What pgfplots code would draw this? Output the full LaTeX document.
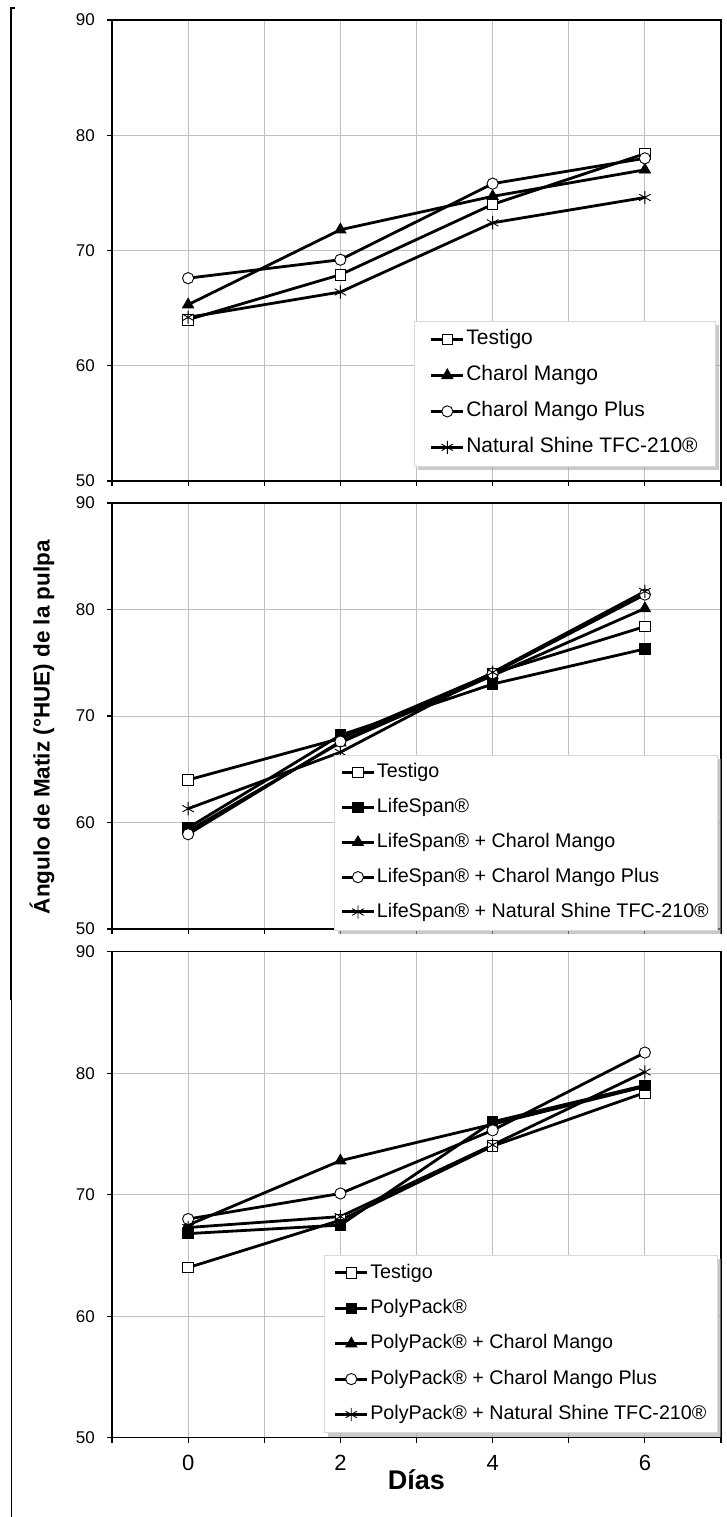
\documentclass[border=0pt]{standalone}
\usepackage{fontspec}
\setmainfont{Liberation Sans}
\usepackage{pgfplots}
\pgfplotsset{compat=1.18}
\usetikzlibrary{shadows}
\makeatletter
\tikzset{no preactions/.code={\let\tikz@preactions\pgfutil@empty}}
\makeatother

\pgfplotstableread{
x  t    cm    cmp   ns
0  64.0 65.3  67.6  64.2
2  67.9 71.8  69.2  66.4
4  74.0 74.7  75.8  72.4
6  78.4 77.0  78.0  74.6
}\tabA
\pgfplotstableread{
x  t    ls    lcm   lcmp  lns
0  64.0 59.5  59.2  58.9  61.3
2  67.9 68.2  67.5  67.6  66.6
4  74.0 73.0  73.8  74.0  74.1
6  78.4 76.3  80.1  81.4  81.7
}\tabB
\pgfplotstableread{
x  t    pp    pcm   pcmp  pns
0  64.0 66.8  67.5  68.0  67.3
2  67.9 67.5  72.8  70.1  68.2
4  74.0 76.0  75.8  75.3  74.1
6  78.4 79.0  78.9  81.7  80.1
}\tabC

\pgfplotsset{
 sq/.style={mark=square*, mark size=5.3pt, mark options={solid, fill=white, line width=0.9pt}},
 sqf/.style={mark=square*, mark size=5.3pt, mark options={solid, fill=black, line width=0.9pt}},
 tri/.style={mark=triangle*, mark size=6.4pt, mark options={solid, fill=black, line width=0.9pt}},
 cir/.style={mark=*, mark size=5.6pt, mark options={solid, fill=white, line width=0.9pt}},
 ast/.style={mark=asterisk, mark size=6.6pt, mark options={solid, line width=0.9pt}},
 panel/.style={
  scale only axis, width=609pt, anchor=south west,
  xmin=-1, xmax=7, ymin=50, ymax=90,
  xtick={-1,0,...,7}, xticklabels={},
  ytick={50,60,70,80,90},
  grid=major, major grid style={gray!50, line width=0.9pt},
  axis line style={black, line width=1.1pt},
  tick align=outside, tick pos=left,
  major tick length=5pt,
  tick style={black, line width=1.1pt},
  /pgf/number format/assume math mode=true,
  yticklabel style={font=\fontsize{17}{19}\selectfont, inner sep=0pt, xshift=-12pt},
  legend cell align=left,
  legend image code/.code={\draw[no preactions,mark repeat=2,mark phase=2,##1,black,line width=3pt] plot coordinates {(0pt,0pt) (16pt,0pt) (32pt,0pt)};},
  legend style={draw=gray!30, fill=white,
    drop shadow={shadow xshift=4pt, shadow yshift=-4pt, fill=gray!70, opacity=0.6},
    anchor=south east},
  every axis plot/.append style={black, line width=2.8pt},
 },
}

\begin{document}
\begin{tikzpicture}
\useasboundingbox (0pt,0pt) rectangle (727pt,-1517pt);

% Panel 1
\begin{axis}[panel, at={(112pt,-481pt)}, height=461pt,
  legend style={at={(axis description cs:0.990,0.0325)}, font=\fontsize{21}{23}\selectfont,
    nodes={no preactions, inner xsep=1.5pt, inner ysep=0pt, text height=15.2pt, text depth=4.5pt},
    row sep=16.3pt, inner ysep=8.6pt, inner xsep=15.5pt}]
\addplot[sq]  table[x=x,y=t]   {\tabA};
\addplot[tri] table[x=x,y=cm]  {\tabA};
\addplot[cir] table[x=x,y=cmp] {\tabA};
\addplot[ast] table[x=x,y=ns]  {\tabA};
\legend{Testigo, Charol Mango, Charol Mango Plus, Natural Shine TFC-210®}
\end{axis}

% Panel 2
\begin{axis}[panel, at={(112pt,-929pt)}, height=426pt,
  ylabel={Ángulo de Matiz (°HUE) de la pulpa},
  ylabel style={font=\bfseries\fontsize{22.5}{24}\selectfont, at={(axis description cs:-0.115,0.474)}, anchor=center, inner sep=0pt},
  legend style={at={(axis description cs:0.9934,-0.0023)}, font=\fontsize{19.7}{21}\selectfont,
    nodes={no preactions, inner xsep=1.5pt, inner ysep=0pt, text height=14.5pt, text depth=4.3pt},
    row sep=16.05pt, inner ysep=8.4pt, inner xsep=6.5pt}]
\addplot[sq]   table[x=x,y=t]    {\tabB};
\addplot[sqf]  table[x=x,y=ls]   {\tabB};
\addplot[tri]  table[x=x,y=lcm]  {\tabB};
\addplot[cir]  table[x=x,y=lcmp] {\tabB};
\addplot[ast]  table[x=x,y=lns]  {\tabB};
\legend{Testigo, LifeSpan®, LifeSpan® + Charol Mango, LifeSpan® + Charol Mango Plus, LifeSpan® + Natural Shine TFC-210®}
\end{axis}

% Panel 3
\begin{axis}[panel, at={(112pt,-1437.7pt)}, height=486pt,
  xticklabels={,0,,2,,4,,6,},
  xticklabel style={font=\fontsize{22}{24}\selectfont, inner sep=0pt, yshift=-12pt},
  xlabel={Días},
  xlabel style={font=\bfseries\fontsize{27}{30}\selectfont, at={(axis description cs:0.5,0)}, anchor=north, inner sep=0pt, yshift=-32pt},
  legend style={at={(axis description cs:0.9945,0.0103)}, font=\fontsize{19.7}{21}\selectfont,
    nodes={no preactions, inner xsep=1.5pt, inner ysep=0pt, text height=14.5pt, text depth=4.3pt},
    row sep=16.6pt, inner ysep=8.6pt, inner xsep=9.5pt}]
\addplot[sq]   table[x=x,y=t]    {\tabC};
\addplot[sqf]  table[x=x,y=pp]   {\tabC};
\addplot[tri]  table[x=x,y=pcm]  {\tabC};
\addplot[cir]  table[x=x,y=pcmp] {\tabC};
\addplot[ast]  table[x=x,y=pns]  {\tabC};
\legend{Testigo, PolyPack®, PolyPack® + Charol Mango, PolyPack® + Charol Mango Plus, PolyPack® + Natural Shine TFC-210®}
\end{axis}

\draw[line width=1.2pt] (15pt,-8pt) -- (11pt,-8pt) -- (11pt,-1000pt);
\draw[line width=1.6pt] (11.5pt,-1000pt) -- (11.5pt,-1517pt);
\end{tikzpicture}
\end{document}
